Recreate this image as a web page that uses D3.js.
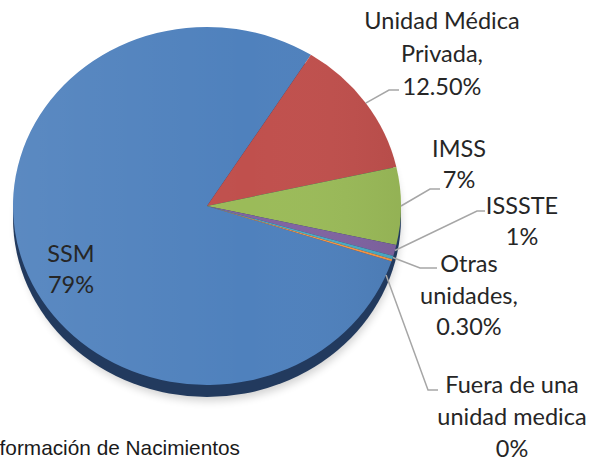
<!DOCTYPE html>
<html>
<head>
<meta charset="utf-8">
<script src="https://cdn.jsdelivr.net/npm/d3@7"></script>
<style>
  body { margin: 0; background: #fff; }
  svg { display: block; }
</style>
</head>
<body>
<div id="chart"></div>
<script>
(function(){
	// data
	var categories = ["SSM", "Unidad Médica Privada", "IMSS", "ISSSTE", "Otras unidades", "Fuera de una unidad medica"];
	var values = [79, 12.5, 7, 1, 0.3, 0.2];
	var labelLines = [
		["SSM", "79%"],
		["Unidad Médica", "Privada,", "12.50%"],
		["IMSS", "7%"],
		["ISSSTE", "1%"],
		["Otras", "unidades,", "0.30%"],
		["Fuera de una", "unidad medica", "0%"]
	];
	var colors = ["#4f81bd", "#c0504d", "#9bbb59", "#8064a2", "#4bacc6", "#f79646"];
	var footer = "Información de Nacimientos";

	var width = 593, height = 459;
	var cx = 207, cy = 206, rx = 194, ry = 179, depth = 12;
	var k = ry / rx;
	var rotation = 108 * Math.PI / 180;

	// label layout: center x, first baseline, line height, leader elbow
	var labelPos = [
		{ x: 71, y: 262, lh: 31, inside: true },
		{ x: 442, y: 29, lh: 33, elbow: [389, 90], end: 399 },
		{ x: 459, y: 157, lh: 31, elbow: [430, 189], end: 440 },
		{ x: 522, y: 214, lh: 31, elbow: [477, 211], end: 485 },
		{ x: 469, y: 272, lh: 31.5, elbow: [420, 268], end: 437 },
		{ x: 512, y: 393, lh: 32, elbow: [428, 390], end: 438, nudge: 5 }
	];

	var svg = d3.select("#chart").append("svg")
		.attr("width", width)
		.attr("height", height);

	var defs = svg.append("defs");
	defs.append("filter").attr("id", "blur")
		.attr("x", "-20%").attr("y", "-20%").attr("width", "140%").attr("height", "140%")
		.append("feGaussianBlur").attr("stdDeviation", 4);

	var shade = defs.append("linearGradient").attr("id", "shade")
		.attr("x1", "0").attr("x2", "1").attr("y1", "0").attr("y2", "0");
	shade.append("stop").attr("offset", "0").attr("stop-color", "#fff").attr("stop-opacity", 0.07);
	shade.append("stop").attr("offset", "0.6").attr("stop-color", "#fff").attr("stop-opacity", 0);
	shade.append("stop").attr("offset", "1").attr("stop-color", "#000").attr("stop-opacity", 0.05);

	var pie = d3.pie()
		.sort(null)
		.value(function(d){ return d; })
		.startAngle(rotation)
		.endAngle(rotation + 2 * Math.PI);

	var arcs = pie(values);

	var arc = d3.arc()
		.innerRadius(0)
		.outerRadius(rx);

	// soft shadow under the pie
	svg.append("ellipse")
		.attr("cx", cx + 2)
		.attr("cy", cy + depth + 4)
		.attr("rx", rx - 2)
		.attr("ry", ry)
		.style("fill", "#000")
		.style("opacity", 0.18)
		.attr("filter", "url(#blur)");

	// side of the pie
	svg.append("ellipse")
		.attr("cx", cx)
		.attr("cy", cy + depth)
		.attr("rx", rx)
		.attr("ry", ry)
		.style("fill", "#223a5e");

	var top = svg.append("g")
		.attr("transform", "translate(" + cx + "," + cy + ") scale(1," + k + ")");

	top.selectAll("path.slice")
		.data(arcs)
		.enter().append("path")
		.attr("class", "slice")
		.attr("d", arc)
		.style("fill", function(d, i){ return colors[i]; });

	top.append("circle")
		.attr("r", rx)
		.style("fill", "url(#shade)");

	function edgePoint(a){
		return [cx + rx * Math.sin(a), cy - ry * Math.cos(a)];
	}

	// leader lines
	arcs.forEach(function(d, i){
		var p = labelPos[i];
		if (p.inside) return;
		var mid = (d.startAngle + d.endAngle) / 2 + (p.nudge || 0) * Math.PI / 180;
		var s = edgePoint(mid);
		svg.append("polyline")
			.attr("points", [s, p.elbow, [p.end, p.elbow[1]]].map(function(q){ return q.join(","); }).join(" "))
			.style("fill", "none")
			.style("stroke", "#a6a6a6")
			.style("stroke-width", 1.5);
	});

	// data labels
	labelLines.forEach(function(lines, i){
		var p = labelPos[i];
		var t = svg.append("text")
			.attr("text-anchor", "middle")
			.style("font-family", "Lato, 'Open Sans', sans-serif")
			.style("font-size", "23.5px")
			.style("fill", "#262626");
		lines.forEach(function(line, j){
			t.append("tspan")
				.attr("x", p.x)
				.attr("y", p.y + j * p.lh)
				.text(line);
		});
	});

	svg.append("text")
		.attr("x", 240)
		.attr("y", 455)
		.attr("text-anchor", "end")
		.style("font-family", "'Liberation Sans', Arial, sans-serif")
		.style("font-size", "20.8px")
		.style("fill", "#1a1a1a")
		.text(footer);
})();
</script>
</body>
</html>
